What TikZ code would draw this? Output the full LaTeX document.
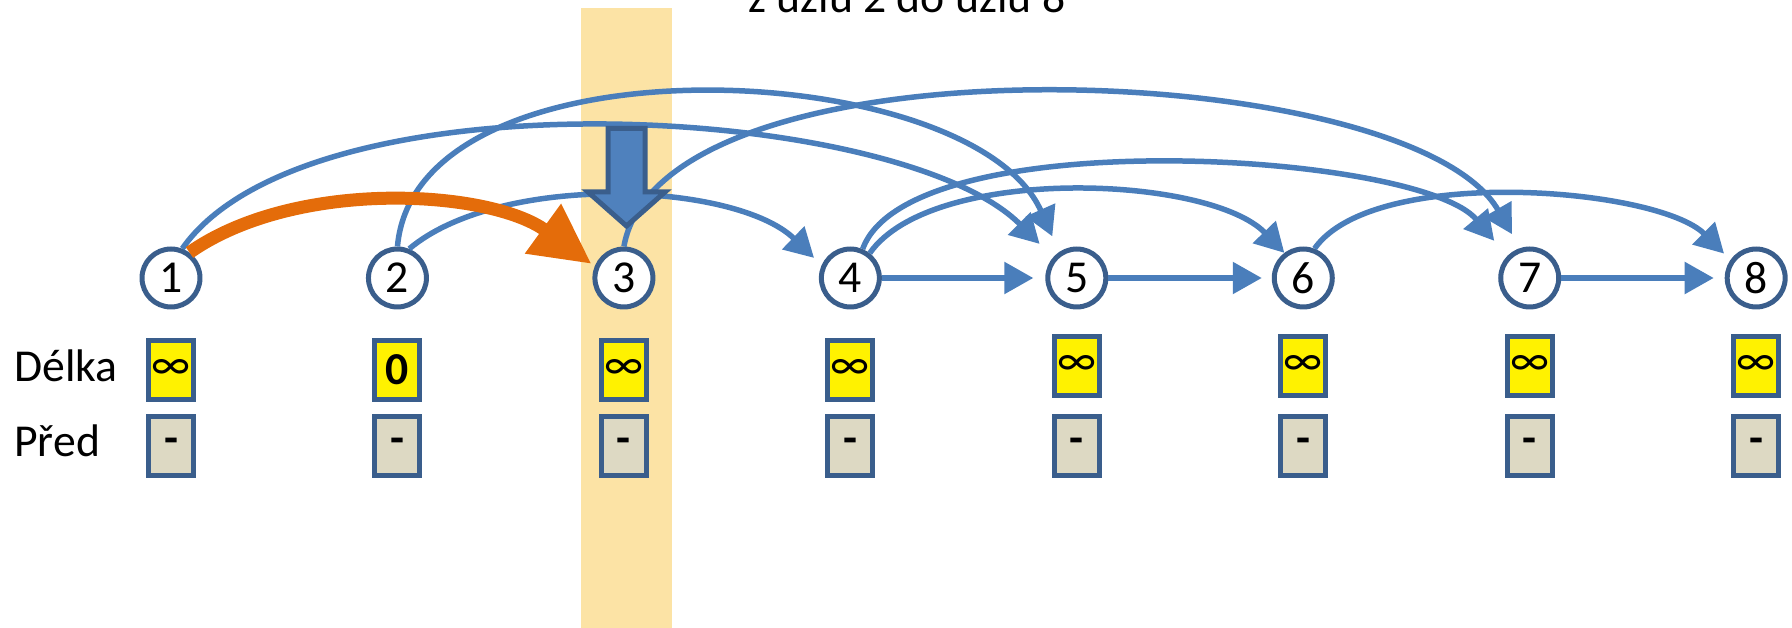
\documentclass[tikz,border=0pt]{standalone}
\usepackage{fontspec}
\setmainfont{Carlito}
\usetikzlibrary{arrows.meta}
\definecolor{edgeblue}{HTML}{4A7EBB}
\definecolor{rimblue}{HTML}{3A5E8C}
\definecolor{fillblue}{HTML}{4F81BD}
\definecolor{pathorange}{HTML}{E46C0A}
\definecolor{bandyellow}{HTML}{FCE3A5}
\definecolor{predgrey}{HTML}{DDD9C3}
\tikzstyle{every node} = [font=\fontsize{26}{31}\selectfont]
\tikzstyle{vertex} = [circle, minimum size=1.16cm, inner sep=0pt, draw=rimblue, line width=0.1cm, fill=white]
\tikzstyle{lenbox} = [rectangle, minimum width=0.9cm, minimum height=1.18cm, inner sep=0pt, draw=rimblue, line width=0.1cm, fill=yellow]
\tikzstyle{prevbox} = [lenbox, fill=predgrey, font=\fontsize{26}{31}\selectfont\bfseries]
\tikzstyle{rowname} = [anchor=base west, inner sep=0pt]
\tikzstyle{arrow} = [edgeblue, line width=0.11cm, -{Triangle[length=0.58cm, width=0.62cm]}]
\tikzstyle{bestarrow} = [pathorange, line width=0.26cm, -{Triangle[length=1.2cm, width=1.16cm]}]
\tikzstyle{pointer} = [draw=rimblue, fill=fillblue, line width=0.1cm, line join=miter]
\begin{document}
\begin{tikzpicture}[node distance=4.53cm, x=0.02cm, y=0.02cm]
\useasboundingbox (-171,-350) rectangle (1621,278);
% highlighted column
\fill [bandyellow] (410,-350) rectangle (501,270);
\node (title) [anchor=base west] at (571,265) {z uzlu 2 do uzlu 8};
\node (n1) [vertex] {1};
\node (n2) [vertex, right of=n1] {2};
\node (n3) [vertex, right of=n2] {3};
\node (n4) [vertex, right of=n3] {4};
\node (n5) [vertex, right of=n4] {5};
\node (n6) [vertex, right of=n5] {6};
\node (n7) [vertex, right of=n6] {7};
\node (n8) [vertex, right of=n7] {8};
\node (len1) [lenbox, below of=n1, node distance=1.84cm] {∞};
\node (len2) [lenbox, below of=n2, node distance=1.84cm] {\bfseries 0};
\node (len3) [lenbox, below of=n3, node distance=1.84cm] {∞};
\node (len4) [lenbox, below of=n4, node distance=1.84cm] {∞};
\node (len5) [lenbox, below of=n5, node distance=1.76cm] {∞};
\node (len6) [lenbox, below of=n6, node distance=1.76cm] {∞};
\node (len7) [lenbox, below of=n7, node distance=1.76cm] {∞};
\node (len8) [lenbox, below of=n8, node distance=1.76cm] {∞};
\node (pre1) [prevbox, below of=n1, node distance=3.36cm] {-};
\node (pre2) [prevbox, below of=n2, node distance=3.36cm] {-};
\node (pre3) [prevbox, below of=n3, node distance=3.36cm] {-};
\node (pre4) [prevbox, below of=n4, node distance=3.36cm] {-};
\node (pre5) [prevbox, below of=n5, node distance=3.36cm] {-};
\node (pre6) [prevbox, below of=n6, node distance=3.36cm] {-};
\node (pre7) [prevbox, below of=n7, node distance=3.36cm] {-};
\node (pre8) [prevbox, below of=n8, node distance=3.36cm] {-};
\node (lenname) [rowname] at (-157,-104) {Délka};
\node (prename) [rowname] at (-157,-179) {Před};
% edges
\draw [arrow, shorten >=0.38cm] (n1.69) to[out=55, in=135, looseness=0.64] (n5.139);
\draw [arrow, shorten >=0.34cm] (n2.north) to[out=85, in=114, looseness=0.83] (n5.124);
\draw [arrow, shorten >=0.21cm] (n2.68) to[out=40, in=136, looseness=0.74] (n4.156);
\draw [arrow, shorten >=0.32cm] (n3.north) to[out=80, in=120, looseness=0.63] (n7.108);
\draw [arrow] (n4.52) to[out=55, in=134, looseness=0.67] (n6.127);
\draw [arrow, shorten >=0.4cm] (n4.67) to[out=70, in=130, looseness=0.54] (n7.136);
\draw [arrow, shorten >=0.18cm] (n6.69) to[out=55, in=135, looseness=0.63] (n8.145);
\draw [arrow, shorten >=0.24cm] (n4) -- (n5);
\draw [arrow, shorten >=0.2cm] (n5) -- (n6);
\draw [arrow, shorten >=0.22cm] (n7) -- (n8);
\draw [bestarrow, shorten >=0.08cm] (n1.54) to[out=35, in=144, looseness=0.82] (n3.158);
% current node marker
\draw [pointer] (437,149.5) -- (474,149.5) -- (474,86) -- (494,86) -- (455.5,52) -- (417,86) -- (437,86) -- cycle;
\end{tikzpicture}
\end{document}
